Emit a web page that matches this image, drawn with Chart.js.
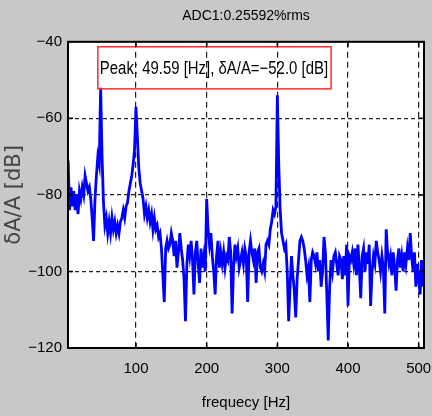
<!DOCTYPE html>
<html>
<head>
<meta charset="utf-8">
<title>ADC1 spectrum</title>
<script src="https://cdn.jsdelivr.net/npm/chart.js@4.4.1/dist/chart.umd.min.js"></script>
<style>
  html, body { margin: 0; padding: 0; background: #c8c8c8; }
  #wrap { width: 432px; height: 416px; }
</style>
</head>
<body>
<div id="wrap"><canvas id="spectrumChart" width="432" height="416"></canvas></div>
<script>
// FFT bins: first bin and spacing in Hz
const binStart = 4;
const binStep = 2;

// level of each bin in dB (rows of 10 bins = 20 Hz)
const levels = [
  -71, -84, -78, -83, -79, -84, -80, -85, -79, -81,
  -78, -80, -75, -77, -79, -78, -81, -86, -92, -81,
  -75, -70, -72, -52, -70, -82, -88, -86, -90, -87,
  -90, -86, -89, -87, -90, -88, -90, -87, -86, -84,
  -86, -83, -82, -79, -77, -75, -72, -68, -57, -65,
  -73, -77, -79, -81, -85, -83, -86, -84, -87, -85,
  -89, -86, -89, -88, -91, -90, -94, -101, -108, -94,
  -92, -94, -93, -90, -92, -96, -92, -99, -95, -90,
  -94, -97, -102, -113, -98, -93, -96, -92, -97, -106,
  -95, -92, -98, -103, -94, -99, -96, -100, -81, -89,
  -93, -90, -96, -100, -106, -96, -92, -99, -95, -98,
  -95, -99, -96, -97, -91, -95, -111, -99, -93, -96,
  -94, -99, -97, -95, -98, -94, -96, -108, -95, -92,
  -95, -97, -94, -103, -95, -94, -99, -100, -98, -100,
  -93, -92, -93, -89, -87, -84, -85, -83, -54, -72,
  -84, -90, -92, -94, -93, -100, -113, -104, -96, -101,
  -105, -112, -102, -97, -92, -91, -92, -94, -97, -101,
  -99, -108, -97, -95, -96, -98, -95, -100, -97, -104,
  -100, -91, -95, -106, -118, -104, -97, -100, -96, -95,
  -98, -101, -96, -97, -102, -96, -101, -93, -109, -96,
  -97, -95, -98, -94, -101, -93, -99, -107, -96, -94,
  -100, -95, -98, -93, -109, -100, -96, -98, -92, -95,
  -97, -100, -96, -99, -111, -89, -95, -98, -96, -101,
  -95, -99, -105, -97, -94, -99, -96, -100, -95, -98,
  -94, -97, -90, -96, -100, -95, -104, -98, -102, -106,
  -97, -104
];

const xTickValues = [100, 200, 300, 400, 500];
const yTickValues = [-120, -100, -80, -60, -40];

const chartTitle = 'ADC1:0.25592%rms';
const xAxisTitle = 'frequecy [Hz]';
const yAxisTitle = 'δA/A [dB]';
const peakText = 'Peak: 49.59 [Hz], δA/A=−52.0 [dB]';

const freqs = levels.map((_, i) => binStart + i * binStep);
const points = freqs.map((f, i) => ({ x: f, y: levels[i] }));

const sans = "'Liberation Sans', Arial, sans-serif";

function signed(v) {
    return v < 0 ? '\u2212' + Math.abs(v) : String(v);
}

// white plot area, black frame with inward ticks, red peak label box
const framePlugin = {
    id: 'frame',
    beforeDraw(chart) {
        const { ctx, chartArea: a } = chart;
        ctx.save();
        ctx.fillStyle = '#ffffff';
        ctx.fillRect(a.left, a.top, a.width, a.height);
        ctx.restore();
    },
    afterDatasetsDraw(chart) {
        const { ctx, scales } = chart;
        const x0 = scales.x.getPixelForValue(46);
        const x1 = scales.x.getPixelForValue(376);
        const y0 = scales.y.getPixelForValue(-41.3);
        const y1 = scales.y.getPixelForValue(-52.3);
        ctx.save();
        ctx.strokeStyle = '#ff2a2a';
        ctx.lineWidth = 1.5;
        ctx.strokeRect(x0, y0, x1 - x0, y1 - y0);
        ctx.fillStyle = '#000';
        ctx.font = '18px ' + sans;
        ctx.textBaseline = 'middle';
        ctx.fillText(peakText, x0 + 2, (y0 + y1) / 2 + 1, x1 - x0 - 5);
        ctx.restore();
    },
    afterDraw(chart) {
        const { ctx, chartArea: a, scales } = chart;
        ctx.save();
        ctx.strokeStyle = '#000';
        ctx.lineWidth = 1.5;
        ctx.beginPath();
        xTickValues.forEach(v => {
            const px = scales.x.getPixelForValue(v);
            ctx.moveTo(px, a.top); ctx.lineTo(px, a.top + 5);
            ctx.moveTo(px, a.bottom); ctx.lineTo(px, a.bottom - 5);
        });
        yTickValues.forEach(v => {
            const py = scales.y.getPixelForValue(v);
            ctx.moveTo(a.left, py); ctx.lineTo(a.left + 5, py);
            ctx.moveTo(a.right, py); ctx.lineTo(a.right - 5, py);
        });
        ctx.stroke();
        ctx.lineWidth = 2;
        ctx.strokeRect(a.left, a.top, a.width, a.height);
        ctx.restore();
    }
};

new Chart(document.getElementById('spectrumChart'), {
    type: 'line',
    data: {
        datasets: [{
            data: points,
            borderColor: '#0000ff',
            borderWidth: 2.8,
            pointRadius: 0,
            tension: 0,
            fill: false
        }]
    },
    options: {
        responsive: false,
        animation: false,
        layout: { padding: { top: 0, left: 0, right: 8, bottom: 0 } },
        plugins: {
            legend: { display: false },
            tooltip: { enabled: false },
            title: {
                display: true,
                text: chartTitle,
                fullSize: false,
                color: '#000',
                font: { family: sans, size: 14, weight: 'normal' },
                padding: { top: 8, bottom: 17 }
            }
        },
        scales: {
            x: {
                type: 'linear',
                min: 3.8,
                max: 507.5,
                afterBuildTicks: s => { s.ticks = xTickValues.map(v => ({ value: v })); },
                afterFit: s => { s.height = 68; s.paddingLeft = 0; s.paddingRight = 0; },
                ticks: {
                    color: '#000',
                    padding: 12,
                    font: { family: sans, size: 15 },
                    callback: v => signed(v)
                },
                grid: { color: '#222', lineWidth: 1.2, drawTicks: false, borderDash: [6, 4] },
                border: { display: false, dash: [6, 4] },
                title: {
                    display: true,
                    text: xAxisTitle,
                    color: '#000',
                    font: { family: sans, size: 15 },
                    padding: { top: 0, bottom: 4 }
                }
            },
            y: {
                min: -120,
                max: -40,
                afterBuildTicks: s => { s.ticks = yTickValues.map(v => ({ value: v })); },
                afterFit: s => { s.width = 68; },
                ticks: {
                    color: '#000',
                    padding: 6,
                    font: { family: sans, size: 15 },
                    callback: v => signed(v)
                },
                grid: { color: '#222', lineWidth: 1.2, drawTicks: false, borderDash: [4, 3] },
                border: { display: false, dash: [4, 3] },
                title: {
                    display: true,
                    text: yAxisTitle,
                    color: '#444',
                    font: { family: "'DejaVu Sans', sans-serif", size: 21 },
                    padding: { top: 2, bottom: 0 }
                }
            }
        }
    },
    plugins: [framePlugin]
});
</script>
</body>
</html>
